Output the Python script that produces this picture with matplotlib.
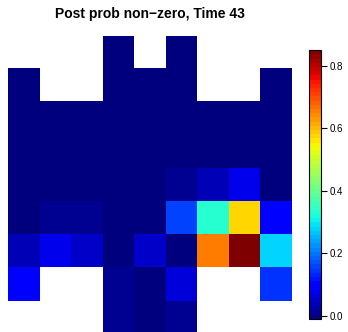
import numpy as np
import matplotlib
matplotlib.use("Agg")
import matplotlib.pyplot as plt

plt.rcParams['font.family'] = ['Liberation Sans', 'DejaVu Sans']

nan = np.nan
# posterior probability of a non-zero effect per grid cell (top row first)
row0 = [nan, nan, nan, 0.003, nan, 0.003, nan, nan, nan]
row1 = [0.003, nan, nan, 0.003, 0.003, 0.003, nan, nan, 0.003]
row2 = [0.003, 0.003, 0.003, 0.003, 0.003, 0.003, 0.003, 0.003, 0.003]
row3 = [0.003, 0.003, 0.003, 0.003, 0.003, 0.003, 0.003, 0.003, 0.003]
row4 = [0.003, 0.003, 0.003, 0.003, 0.003, 0.012, 0.038, 0.072, 0.003]
row5 = [0.003, 0.009, 0.009, 0.003, 0.003, 0.155, 0.334, 0.569, 0.089]
row6 = [0.038, 0.072, 0.044, 0.003, 0.044, 0.0, 0.657, 0.85, 0.276]
row7 = [0.089, nan, nan, 0.008, 0.0, 0.061, nan, nan, 0.151]
row8 = [nan, nan, nan, 0.011, 0.0, 0.008, nan, nan, nan]

z = np.array([row0, row1, row2, row3, row4, row5, row6, row7, row8])
zmin, zmax = -0.01, 0.85
cbar_ticks = [0.0, 0.2, 0.4, 0.6, 0.8]

cmap = plt.get_cmap('jet', 64).copy()
cmap.set_bad('white')

fig = plt.figure(figsize=(3.48, 3.32), dpi=100)
ax = fig.add_axes([0.023, -0.006, 0.816, 0.898])
im = ax.imshow(np.ma.masked_invalid(z), cmap=cmap, vmin=zmin, vmax=zmax,
               aspect='auto', interpolation='nearest')
ax.axis('off')
fig.text(0.431, 0.958, 'Post prob non\u2212zero, Time 43', ha='center', va='center',
         fontsize=10, fontweight='bold')

cax = fig.add_axes([0.888, 0.039, 0.0345, 0.81])
cb = fig.colorbar(im, cax=cax, ticks=cbar_ticks)
cb.ax.set_yticklabels(['%.1f' % t for t in cbar_ticks])
cb.ax.tick_params(labelsize=7, length=4, width=0.8, pad=2)
cb.outline.set_linewidth(0.8)

fig.savefig('out.png', dpi=100)
